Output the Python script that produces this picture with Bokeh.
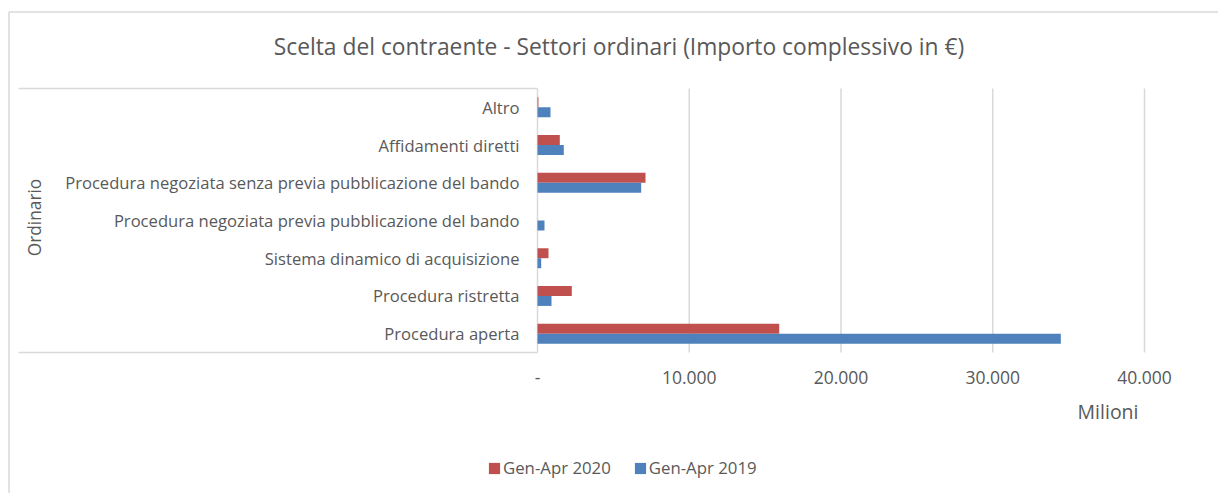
import math
from bokeh.plotting import figure
from bokeh.models import (Range1d, Legend, LegendItem, Label, ColumnDataSource)
from bokeh.transform import dodge
from bokeh.core.properties import value
from bokeh.embed import file_html
from bokeh.resources import INLINE

# ---- data (Milioni di €) ----
categories = [
    "Procedura aperta",
    "Procedura ristretta",
    "Sistema dinamico di acquisizione",
    "Procedura negoziata previa pubblicazione del bando",
    "Procedura negoziata senza previa pubblicazione del bando",
    "Affidamenti diretti",
    "Altro",
]
gen_apr_2020 = [15930, 2260, 725, 0, 7117, 1470, 60]
gen_apr_2019 = [34485, 923, 244, 461, 6833, 1733, 857]
series_names = ["Gen-Apr 2020", "Gen-Apr 2019"]
tick_values = [0, 10000, 20000, 30000, 40000]
tick_labels = ["-", "10.000", "20.000", "30.000", "40.000"]
group_label = "Ordinario"
unit_label = "Milioni"
title_text = "Scelta del contraente - Settori ordinari (Importo complessivo in €)"

# ---- styling / layout (pixels) ----
RED = "#C0504D"
BLUE = "#4F81BD"
GRID = "#D9D9D9"
TXT = "#595959"
FONT = "Open Sans"
W, H = 1218, 493
PLOT_L, PLOT_R, PLOT_T, PLOT_B = 537, 1144, 88, 352

n = len(categories)
kx = tick_values[-1] / (PLOT_R - PLOT_L)      # data units per pixel (x)
uy = (PLOT_B - PLOT_T) / n                    # pixels per category


def px2x(px):
    return (px - PLOT_L) * kx


def py2y(py):
    return (PLOT_B - py) / uy


p = figure(width=W, height=H, output_backend="svg", toolbar_location=None,
           x_range=Range1d(px2x(0), px2x(W)), y_range=Range1d(py2y(H), py2y(0)),
           min_border=0, x_axis_location=None, y_axis_location=None)
p.outline_line_color = None
p.grid.visible = False
p.background_fill_color = "white"
p.border_fill_color = "white"

ypos = [i + 0.5 for i in range(n)]
src = ColumnDataSource(dict(cat=categories, y=ypos, v20=gen_apr_2020, v19=gen_apr_2019))

# outer chart border (left + top)
p.segment(x0=[px2x(8.5), px2x(8.5)], y0=[py2y(11.5), py2y(11.5)],
          x1=[px2x(8.5), px2x(W + 5)], y1=[py2y(H + 5), py2y(11.5)],
          line_color=GRID, line_width=1.5)

# value gridlines (and category axis line at 0)
p.segment(x0=tick_values, x1=tick_values, y0=0, y1=n, line_color=GRID, line_width=1.5)

# category group box lines (top / bottom)
p.segment(x0=[px2x(18), px2x(18)], x1=[0, 0], y0=[0, n], y1=[0, n],
          line_color=GRID, line_width=1.5)

bh = 0.265
r20 = p.hbar(y=dodge("y", bh / 2), right="v20", left=0, height=bh, source=src,
             fill_color=RED, line_color=None)
r19 = p.hbar(y=dodge("y", -bh / 2), right="v19", left=0, height=bh, source=src,
             fill_color=BLUE, line_color=None)

# category labels
p.text(x=0, y="y", text="cat", source=src, x_offset=-18, text_align="right",
       text_baseline="middle", text_font=value(FONT), text_font_size="16.6px",
       text_color=TXT)

# value tick labels
p.text(x=tick_values, y=0, text=tick_labels, y_offset=25,
       text_align="center", text_baseline="middle", text_font=value(FONT),
       text_font_size="17.5px", text_color=TXT)

# group label (rotated)
p.add_layout(Label(x=px2x(34), y=py2y(217), text=group_label, angle=math.pi / 2,
                   text_align="center", text_baseline="middle", text_font=FONT,
                   text_font_size="17.3px", text_color=TXT))

# unit label
p.add_layout(Label(x=px2x(1138), y=py2y(411), text=unit_label, text_align="right",
                   text_baseline="middle", text_font=FONT, text_font_size="19.5px",
                   text_color=TXT))

# title
p.add_layout(Label(x=px2x(618.5), y=py2y(46), text=title_text, text_align="center",
                   text_baseline="middle", text_font=FONT, text_font_size="22.8px",
                   text_color=TXT))

legend = Legend(items=[LegendItem(label=series_names[0], renderers=[r20]),
                       LegendItem(label=series_names[1], renderers=[r19])],
                orientation="horizontal", location=(487, 14),
                label_text_font=FONT, label_text_font_size="16.8px",
                label_text_color=TXT, glyph_width=14, glyph_height=14,
                label_height=20, spacing=22, label_standoff=2,
                border_line_color=None, background_fill_alpha=0, padding=0,
                margin=0)
p.add_layout(legend, "center")

open("out.html", "w").write(file_html(p, INLINE))
